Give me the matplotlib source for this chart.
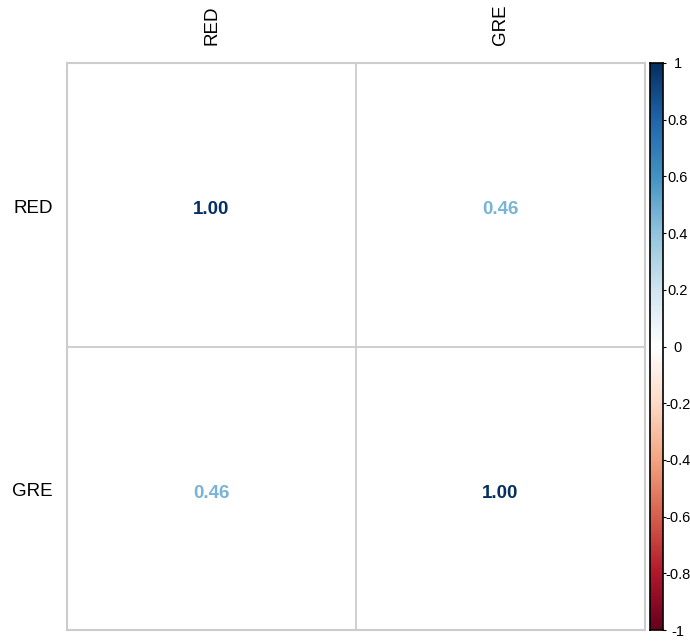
import numpy as np
import matplotlib.pyplot as plt
from matplotlib.colors import LinearSegmentedColormap

plt.rcParams['font.family'] = ['Liberation Sans', 'DejaVu Sans']

labels = ['RED', 'GRE']
corr = np.array([[1.00, 0.46],
                 [0.46, 1.00]])

# corrplot-style RdBu palette
rdbu = ["#67001F", "#B2182B", "#D6604D", "#F4A582", "#FDDBC7", "#FFFFFF",
        "#D1E5F0", "#92C5DE", "#4393C3", "#2166AC", "#053061"]
cmap = LinearSegmentedColormap.from_list('rdbu', rdbu, N=200)

fig = plt.figure(figsize=(6.9, 6.41), dpi=100)
W, H = 690, 641
ax = fig.add_axes([67 / W, (H - 630) / H, 578 / W, 567 / H])
n = len(labels)
ax.set_xlim(0, n)
ax.set_ylim(n, 0)

for i in range(n):
    for j in range(n):
        v = corr[i, j]
        ax.text(j + 0.5, i + 0.518, f'{v:.2f}', ha='center', va='center',
                fontsize=13.5, fontweight='bold', color=cmap((v + 1) / 2))

for k in range(1, n):
    ax.axhline(k, color='#cccccc', lw=1.3)
    ax.axvline(k, color='#cccccc', lw=1.3)
for s in ax.spines.values():
    s.set_color('#cccccc')
    s.set_linewidth(1.5)

ax.set_xticks(np.arange(n) + 0.5)
ax.set_xticklabels(labels, rotation=90, fontsize=13.5)
ax.xaxis.tick_top()
ax.set_yticks(np.arange(n) + 0.505)
ax.set_yticklabels(labels, fontsize=13.5)
ax.tick_params(axis='x', length=0, pad=13)
ax.tick_params(axis='y', length=0, pad=10)

# colour legend
cax = fig.add_axes([650 / W, (H - 630) / H, 13 / W, 567 / H])
grad = np.linspace(-1, 1, 200).reshape(-1, 1)
cax.imshow(grad, cmap=cmap, aspect='auto', origin='lower', extent=[0, 1, -1, 1])
cax.set_xticks([])
cax.yaxis.tick_right()
ticks = np.round(np.arange(-1, 1.01, 0.2), 1)
cax.set_yticks(ticks)
cax.set_yticklabels([f'{t:g}' if t != 0 else '0' for t in ticks], fontsize=10.5,
                    ha='center')
cax.tick_params(axis='y', length=2, pad=8.6, width=0.8)
for s in cax.spines.values():
    s.set_linewidth(1.2)

fig.savefig('out.png', dpi=100)
